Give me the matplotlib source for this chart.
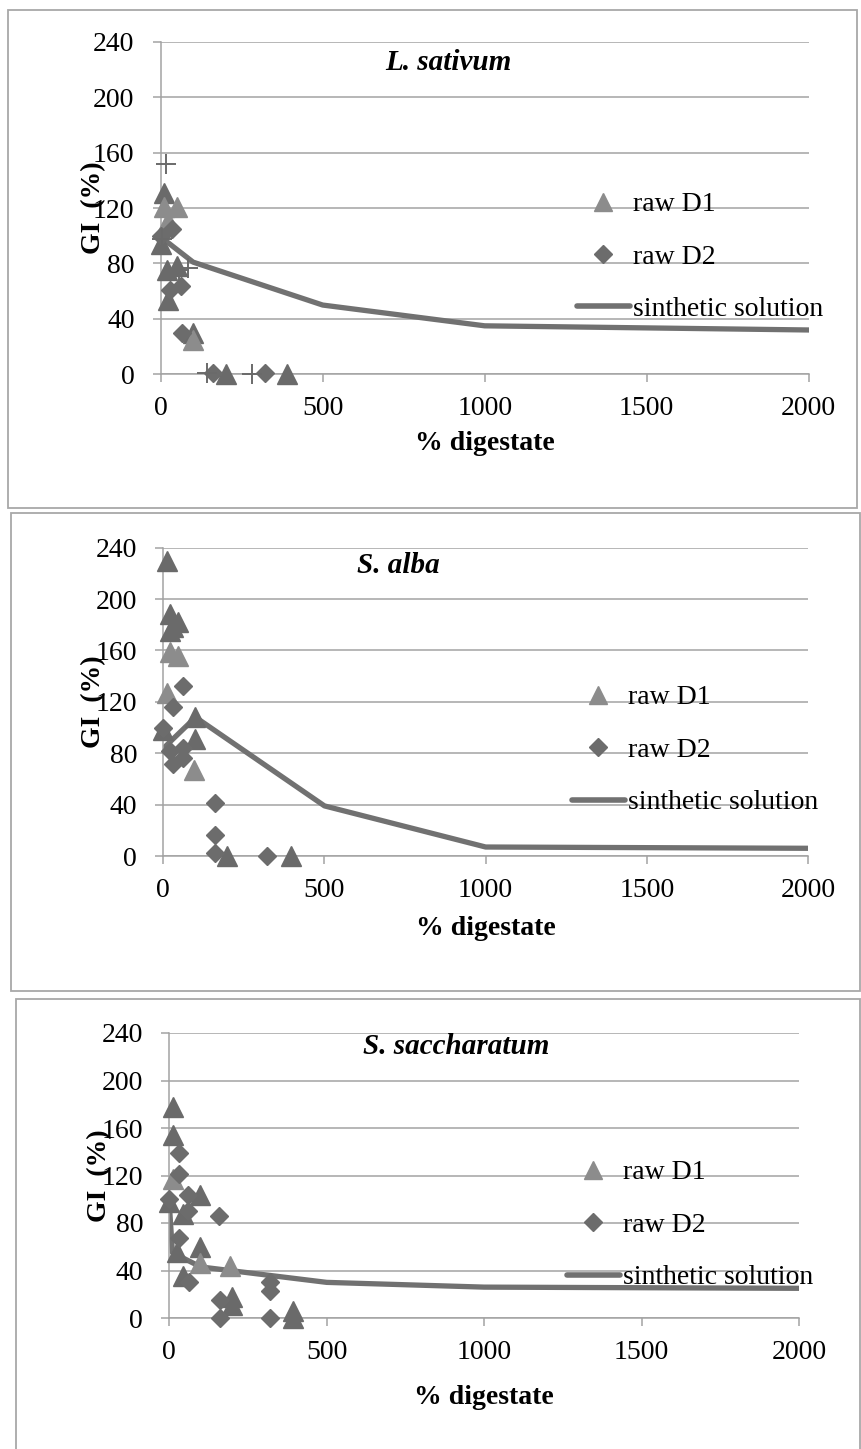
import matplotlib
matplotlib.use('Agg')
import matplotlib.pyplot as plt
from matplotlib.lines import Line2D
from matplotlib.patches import Rectangle

plt.rcParams['font.family'] = ['Liberation Serif', 'DejaVu Serif']

# ---------------- data ----------------
# Panel 1: L. sativum
ls_d1_x = [10, 49, 24, 99]
ls_d1_y = [121, 121, 111, 25]
ls_d1b_x = [10, 0, 18, 49, 24, 99, 200, 389]
ls_d1b_y = [131, 94, 75, 78, 54, 30, 0, 0]
ls_d2_x = [0, 34, 29, 62, 65, 160, 322]
ls_d2_y = [100, 105, 61, 64, 30, 1, 1]
ls_cr_x = [16, 3, 55, 85, 142, 281]
ls_cr_y = [152, 98, 75, 77, 1, 0]
ls_syn_x = [1, 100, 500, 1000, 2000]
ls_syn_y = [99, 81, 50, 35, 32]

# Panel 2: S. alba
sa_d1_x = [21, 47, 10, 94]
sa_d1_y = [159, 156, 127, 67]
sa_d1b_x = [13, 21, 47, 21, 30, 99, 99, 0, 198, 396]
sa_d1b_y = [230, 188, 182, 175, 178, 108, 91, 98, 0, 0]
sa_d2_x = [62, 31, 0, 21, 62, 31, 62, 161, 161, 161, 323]
sa_d2_y = [132, 116, 100, 82, 84, 72, 76, 41, 16, 2, 0]
sa_syn_x = [1, 100, 500, 1000, 2000]
sa_syn_y = [84, 108, 39, 7, 6]

# Panel 3: S. saccharatum
ss_d1_x = [11, 97, 193]
ss_d1_y = [117, 46, 44]
ss_d1b_x = [11, 11, 97, 45, 23, 97, 45, 198, 198, 392, 392, 0]
ss_d1b_y = [178, 154, 104, 88, 56, 60, 35, 18, 11, 6, 0, 98]
ss_d2_x = [31, 31, 0, 60, 60, 158, 31, 64, 161, 161, 320, 320, 320]
ss_d2_y = [139, 121, 100, 104, 90, 86, 67, 30, 15, 0, 30, 23, 0]
ss_syn_x = [1, 10, 100, 500, 1000, 2000]
ss_syn_y = [92, 55, 43, 30, 26, 25]

titles = ['L. sativum', 'S. alba', 'S. saccharatum']
legend_labels = ['raw D1', 'raw D2', 'sinthetic solution']
x_ticks = [0, 500, 1000, 1500, 2000]
y_ticks = [0, 40, 80, 120, 160, 200, 240]
x_label = '% digestate'
y_label = 'GI  (%)'

# ---------------- layout (pixels) ----------------
W, H = 861, 1449
layout = [
    dict(ax=(160.7, 41.9, 808.7, 374.3), frame=(8, 10, 857, 508),
         title=(385, 63), legend=(577, 192), xlab=443, ylab=94),
    dict(ax=(163.3, 547.7, 808.0, 856.0), frame=(11, 513, 860, 991),
         title=(357, 565), legend=(572, 685), xlab=928, ylab=94),
    dict(ax=(169.3, 1033.0, 799.0, 1318.0), frame=(16, 999, 860, 1460),
         title=(363, 1047), legend=(567, 1160), xlab=1398, ylab=100),
]
data = [
    (ls_d1_x, ls_d1_y, ls_d1b_x, ls_d1b_y, ls_d2_x, ls_d2_y, ls_syn_x, ls_syn_y),
    (sa_d1_x, sa_d1_y, sa_d1b_x, sa_d1b_y, sa_d2_x, sa_d2_y, sa_syn_x, sa_syn_y),
    (ss_d1_x, ss_d1_y, ss_d1b_x, ss_d1b_y, ss_d2_x, ss_d2_y, ss_syn_x, ss_syn_y),
]

GRID = '#a3a3a3'
LIGHT = '#8c8c8c'
DARK = '#6a6a6a'
DIAM = '#6c6c6c'
LINE = '#717171'
FS = 20

fig = plt.figure(figsize=(W / 100, H / 100), dpi=100)

def fx(x):
    return x / W

def fy(y):
    return 1 - y / H

for i, (lay, d) in enumerate(zip(layout, data)):
    fl, ft, fr, fb = lay['frame']
    fig.patches.append(Rectangle((fx(fl), fy(fb)), fx(fr) - fx(fl), fy(ft) - fy(fb),
                                 transform=fig.transFigure, fill=False,
                                 edgecolor='#a8a8a8', lw=1.3, zorder=0))
    l, t, r, b = lay['ax']
    ax = fig.add_axes([fx(l), fy(b), fx(r) - fx(l), fy(t) - fy(b)])
    ax.set_facecolor('none')
    d1x, d1y, d1bx, d1by, d2x, d2y, sx, sy = d

    ax.plot(sx, sy, color=LINE, lw=3.8, zorder=2, solid_joinstyle='round')
    ax.plot(d1bx, d1by, ls='none', marker='^', ms=14.5, color=DARK, zorder=3, clip_on=False)
    ax.plot(d1x, d1y, ls='none', marker='^', ms=14.5, color=LIGHT, zorder=3, clip_on=False)
    ax.plot(d2x, d2y, ls='none', marker='D', ms=9, color=DIAM, zorder=4, clip_on=False)
    if i == 0:
        ax.plot(ls_cr_x, ls_cr_y, ls='none', marker='+', ms=14, mew=1.4,
                color=DARK, zorder=5, clip_on=False)

    ax.set_xlim(0, 2000)
    ax.set_ylim(0, 240)
    ax.set_xticks(x_ticks)
    ax.set_yticks(y_ticks)
    ax.grid(axis='y', color=GRID, lw=1.1, zorder=1)
    ax.grid(axis='x', visible=False)
    ax.set_axisbelow(True)
    for s in ['top', 'right']:
        ax.spines[s].set_visible(False)
    for s in ['left', 'bottom']:
        ax.spines[s].set_color(GRID)
        ax.spines[s].set_linewidth(1.1)
    ax.tick_params(axis='both', direction='out', length=5.8, width=1.1,
                   color=GRID, labelsize=FS, labelcolor='black')
    ax.tick_params(axis='y', pad=13)
    ax.tick_params(axis='x', pad=10)

    # axis labels
    xl = ax.set_xlabel(x_label, fontsize=FS, fontweight='bold')
    xl.set_va('center')
    ax.xaxis.set_label_coords(0.5, (b - lay['xlab']) / (b - t))
    yl = ax.set_ylabel(y_label, fontsize=FS, fontweight='bold')
    yl.set_va('center')
    ax.yaxis.set_label_coords((lay['ylab'] - l) / (r - l), 0.5)

    # title
    tx, ty = lay['title']
    fig.text(fx(tx), fy(ty), titles[i], fontsize=21, fontweight='bold',
             fontstyle='italic', ha='left', va='center')

    # legend
    handles = [
        Line2D([], [], ls='none', marker='^', ms=12.5, color=LIGHT),
        Line2D([], [], ls='none', marker='D', ms=9, color=DIAM),
        Line2D([], [], color=LINE, lw=4, solid_capstyle='round'),
    ]
    lx, ly = lay['legend']
    ax.legend(handles, legend_labels, loc='upper left',
              bbox_to_anchor=(fx(lx), fy(ly)), bbox_transform=fig.transFigure,
              frameon=False, fontsize=FS, handlelength=1.9, handletextpad=0.1,
              labelspacing=0.97, borderpad=0, borderaxespad=0, numpoints=1)

fig.savefig('out.png', dpi=100)
